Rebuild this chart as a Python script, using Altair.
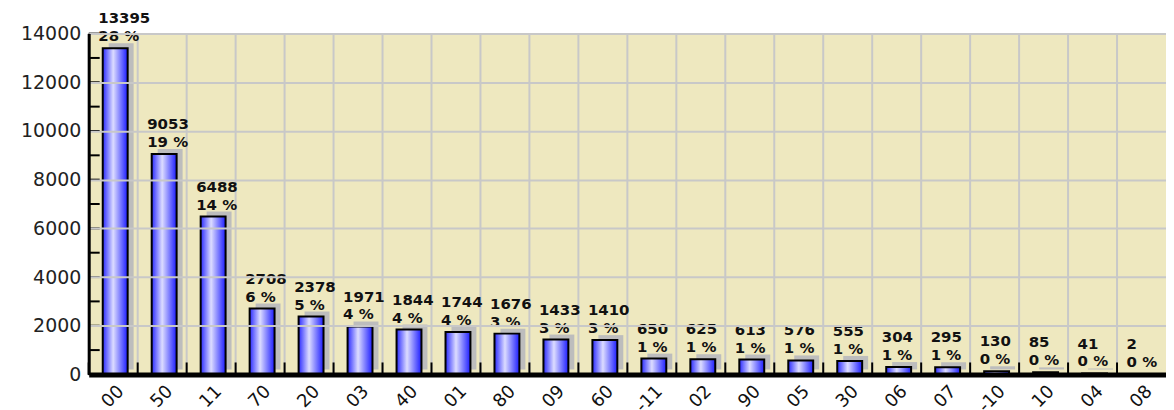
import altair as alt
import pandas as pd

cats = ["00", "50", "11", "70", "20", "03", "40", "01", "80", "09", "60",
        "-11", "02", "90", "05", "30", "06", "07", "-10", "10", "04", "08"]
values = [13395, 9053, 6488, 2708, 2378, 1971, 1844, 1744, 1676, 1433, 1410,
          650, 625, 613, 576, 555, 304, 295, 130, 85, 41, 2]
pcts = [28, 19, 14, 6, 5, 4, 4, 4, 3, 3, 3, 1, 1, 1, 1, 1, 1, 1, 0, 0, 0, 0]
y_ticks = list(range(0, 14001, 1000))

W, H = 1081, 342

df = pd.DataFrame({"cat": cats, "value": values,
                   "pct": [f"{p} %" for p in pcts]})
ticks_df = pd.DataFrame({"v": y_ticks})

xsc = alt.Scale(paddingInner=0, paddingOuter=0)
ysc = alt.Scale(domain=[0, 14000], nice=False)

X = alt.X("cat:N", sort=None, scale=xsc,
          axis=alt.Axis(title=None, labelAngle=-45, labelFont="DejaVu Sans",
                        labelFontSize=18, labelColor="#111", ticks=False,
                        domainColor="black", domainWidth=5, labelPadding=14,
                        labelOffset=8, grid=False, zindex=2))
Y = alt.Y("value:Q", scale=ysc,
          axis=alt.Axis(title=None, values=y_ticks, labelFont="DejaVu Sans",
                        labelFontSize=19, labelColor="#222", ticks=False,
                        format="d",
                        labelExpr="datum.value % 2000 == 0 ? datum.label : ''",
                        domainColor="black", domainWidth=3, labelPadding=8,
                        grid=True, gridColor="#c8c8c8", gridWidth=2, zindex=2))

base = alt.Chart(df)

vgrid = base.mark_rule(color="#c8c8c8", strokeWidth=2).encode(
    x=alt.X("cat:N", sort=None, scale=xsc, bandPosition=0),
    y=alt.value(0), y2=alt.value(H))

xticks = base.mark_rule(color="black", strokeWidth=2).encode(
    x=alt.X("cat:N", sort=None, scale=xsc, bandPosition=0),
    y=alt.value(H - 12), y2=alt.value(H))

yticks = alt.Chart(ticks_df).mark_rule(color="black", strokeWidth=2).encode(
    y=alt.Y("v:Q", scale=ysc),
    x=alt.value(0), x2=alt.value(11))

shadow = base.mark_bar(size=25, color="#bdbdbd", xOffset=8, yOffset=-5).encode(
    x=X, y=Y)

grad = alt.Gradient(
    gradient="linear",
    stops=[alt.GradientStop(color="#2a2aff", offset=0),
           alt.GradientStop(color="#dcdcff", offset=0.42),
           alt.GradientStop(color="#1c1cff", offset=1)],
    x1=0, x2=1, y1=0, y2=0)

bars = base.mark_bar(size=25, color=grad, stroke="black", strokeWidth=2,
                     xOffset=2).encode(x=X, y=Y)

txt_val = base.mark_text(align="left", baseline="alphabetic", dx=-15, dy=-25,
                         font="DejaVu Sans", fontWeight="bold", fontSize=15,
                         color="#111").encode(x=X, y=Y, text="value:Q")
txt_pct = base.mark_text(align="left", baseline="alphabetic", dx=-15, dy=-7,
                         font="DejaVu Sans", fontWeight="bold", fontSize=15,
                         color="#111").encode(x=X, y=Y, text="pct:N")

chart = alt.layer(vgrid, shadow, bars, xticks, yticks, txt_val, txt_pct).properties(
    width=W, height=H,
    autosize=alt.AutoSizeParams(type="none"),
    padding={"left": 81, "top": 25, "right": 0, "bottom": 35},
    background="white",
).configure_view(fill="#eee8bf", stroke=None)

chart.save("out.html", embed_options={"renderer": "svg", "actions": False})
